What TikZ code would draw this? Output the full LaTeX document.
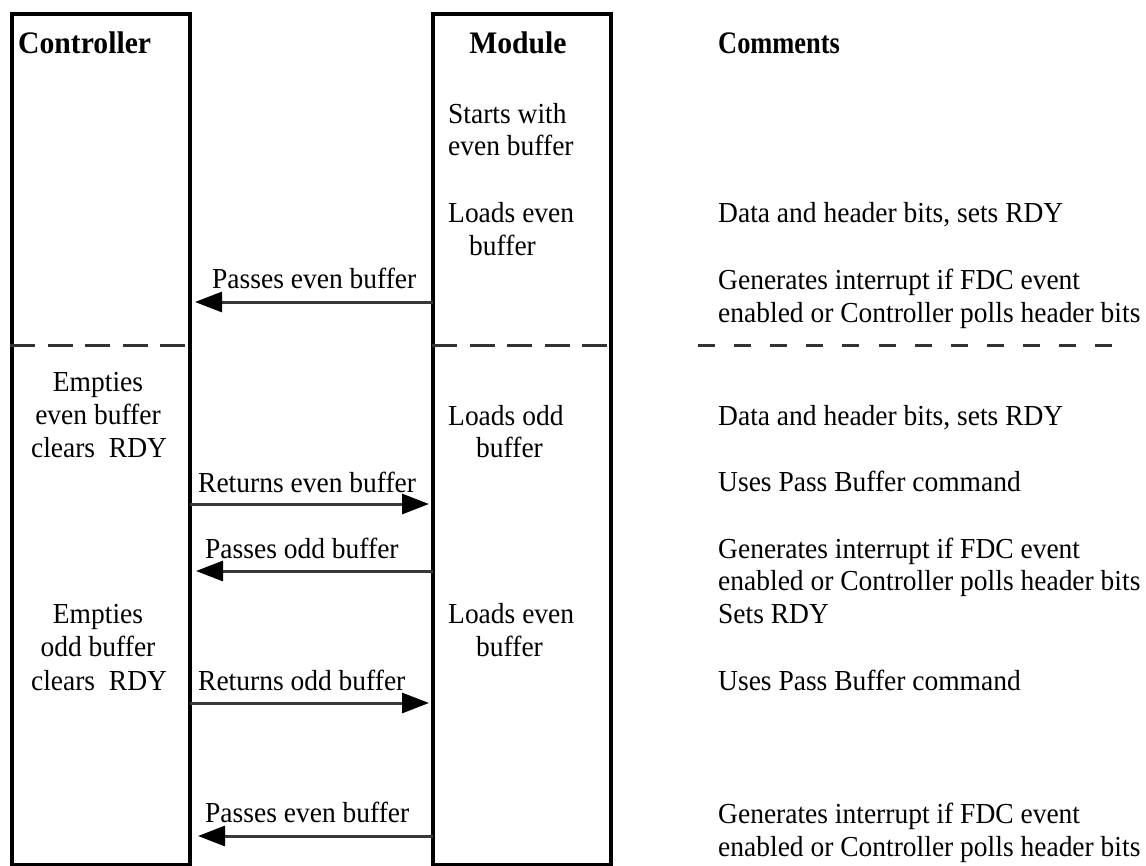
\documentclass[tikz,border=0pt]{standalone}
\usepackage{fontspec}
\usepackage{graphicx}
\setmainfont[FakeStretch=0.948]{Liberation Serif}
\usetikzlibrary{arrows.meta}
\begin{document}
\begin{tikzpicture}[x=1pt,y=-1pt,
  lbl/.style={inner sep=0pt, anchor=base west, font=\fontsize{29}{34}\selectfont},
  clbl/.style={inner sep=0pt, anchor=base, font=\fontsize{29}{34}\selectfont},
  hdr/.style={inner sep=0pt, anchor=base west, font=\fontsize{31.3}{36}\selectfont\bfseries},
  lane/.style={draw=black, line width=4pt, minimum width=178pt, minimum height=851pt,
    anchor=north west, inner sep=0pt, outer sep=0pt},
  msg/.style={draw=black!78, line width=3pt, -{Triangle[length=27pt,width=20pt,color=black]}},
  sep/.style={draw=black!80, line width=3pt, dash pattern=on 25pt off 12.5pt},
  sepc/.style={draw=black!80, line width=3pt, dash pattern=on 17pt off 19.1pt}
]
\useasboundingbox (0,0) rectangle (1146,865);
\fill[white] (0,0) rectangle (1146,865);

% lanes
\node[lane] (ctrl) at (12,14) {};
\node[lane] (mod) at (433,14) {};

% headers
\node[hdr] (hctrl) at (18,53) {Controller};
\node[hdr, anchor=base] (hmod) at (518,53) {Module};
\node[hdr] (hcom) at (718,53) {\scalebox{0.89}[1]{Comments}};

% separators
\draw[sep] (10,345) -- (190,345);
\draw[sep] (432,345) -- (611,345);
\draw[sepc] (698,345) -- (1112,345);

% module texts
\node[lbl] (m1a) at (448,123) {Starts with};
\node[lbl] (m1b) at (448,155) {even buffer};
\node[lbl] (m2a) at (448,222) {Loads even};
\node[lbl] (m2b) at (469,255) {buffer};
\node[lbl] (m3a) at (448,425) {Loads odd};
\node[lbl] (m3b) at (476,457) {buffer};
\node[lbl] (m4a) at (448,623) {Loads even};
\node[lbl] (m4b) at (476,656) {buffer};

% controller texts
\node[clbl] (c1a) at (98,391) {Empties};
\node[clbl] (c1b) at (98,424) {even buffer};
\node[clbl] (c1c) at (99,457) {clears\ \ RDY};
\node[clbl] (c2a) at (98,623) {Empties};
\node[clbl] (c2b) at (98,656) {odd buffer};
\node[clbl] (c2c) at (99,690) {clears\ \ RDY};

% arrow labels
\node[lbl] (a1) at (212,288) {Passes even buffer};
\node[lbl] (a2) at (198,492) {Returns even buffer};
\node[lbl] (a3) at (205,558) {Passes odd buffer};
\node[lbl] (a4) at (198,690) {Returns odd buffer};
\node[lbl] (a5) at (205,822) {Passes even buffer};

% arrows
\draw[msg, shorten >=5pt] (mod.west |- 0,302) -- (ctrl.east |- 0,302);
\draw[msg, shorten >=4pt] (ctrl.east |- 0,504) -- (mod.west |- 0,504);
\draw[msg, shorten >=6pt] (mod.west |- 0,571) -- (ctrl.east |- 0,571);
\draw[msg, shorten >=4pt] (ctrl.east |- 0,703) -- (mod.west |- 0,703);
\draw[msg, shorten >=8pt] (mod.west |- 0,836) -- (ctrl.east |- 0,836);

% comments
\node[lbl] (k1) at (718,222) {Data and header bits, sets RDY};
\node[lbl] (k2a) at (718,289) {Generates interrupt if FDC event};
\node[lbl] (k2b) at (718,322) {enabled or Controller polls header bits};
\node[lbl] (k3) at (718,425) {Data and header bits, sets RDY};
\node[lbl] (k4) at (718,491) {Uses Pass Buffer command};
\node[lbl] (k5a) at (718,558) {Generates interrupt if FDC event};
\node[lbl] (k5b) at (718,590) {enabled or Controller polls header bits};
\node[lbl] (k5c) at (718,623) {Sets RDY};
\node[lbl] (k6) at (718,690) {Uses Pass Buffer command};
\node[lbl] (k7a) at (718,823) {Generates interrupt if FDC event};
\node[lbl] (k7b) at (718,856) {enabled or Controller polls header bits};
\end{tikzpicture}
\end{document}
